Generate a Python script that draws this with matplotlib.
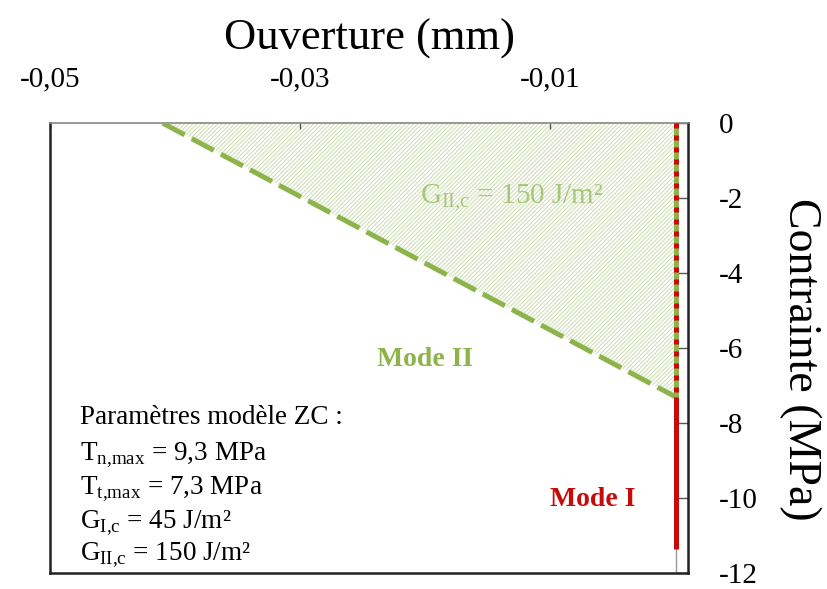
import matplotlib
matplotlib.use("Agg")
import matplotlib.pyplot as plt
from matplotlib.ticker import FuncFormatter

# --- données ---
x_mode2 = [-0.041, 0.0]      # enveloppe mode II (mm)
y_mode2 = [0.0, -7.3]        # contrainte (MPa)
y_mode2_vert = [0.0, -7.3]   # segment vertical mode II sur x = 0
y_mode1_vert = [0.0, -11.35] # segment vertical mode I sur x = 0
x_ticks = [-0.05, -0.03, -0.01]
y_ticks = [0, -2, -4, -6, -8, -10, -12]
params = ["Paramètres modèle ZC :",
          r"T$_{\mathrm{n{,}max}}$ = 9,3 MPa",
          r"T$_{\mathrm{t{,}max}}$ = 7,3 MPa",
          r"G$_{\mathrm{I{,}c}}$ = 45 J/m²",
          r"G$_{\mathrm{II{,}c}}$ = 150 J/m²"]

vert = "#8cb44a"
rouge = "#c80a0a"

plt.rcParams["font.family"] = ["Liberation Serif", "DejaVu Serif"]
plt.rcParams["mathtext.fontset"] = "custom"
plt.rcParams["mathtext.rm"] = "Liberation Serif"
plt.rcParams["hatch.linewidth"] = 0.8

fig = plt.figure(figsize=(8.27, 5.89), dpi=100)
ax = fig.add_axes([0.0605, 0.027, 0.7715, 0.764])

# zone hachurée mode II
ax.fill([x_mode2[0], x_mode2[1], x_mode2[1]], [y_mode2[0], y_mode2[1], y_mode2[0]],
        facecolor="none", edgecolor="#cfe0b6", hatch="////////", linewidth=0)

# axe vertical x = 0
ax.axvline(0, color="#999999", lw=1, zorder=1)

ax.plot(x_mode2, y_mode2, color=vert, lw=3.6, ls=(0, (5, 1.6)), zorder=3)
ax.plot([0, 0], y_mode1_vert, color=rouge, lw=3.6, solid_capstyle="butt", zorder=3)
ax.plot([0, 0], y_mode2_vert, color=vert, lw=3.6, solid_capstyle="butt", zorder=4)
ax.plot([0, 0], y_mode2_vert, color=rouge, lw=3.6, ls=(0, (1.0, 1.4)), zorder=5)

ax.set_xlim(-0.05, 0.001)
ax.set_ylim(-12, 0)

ax.xaxis.tick_top()
ax.xaxis.set_label_position("top")
ax.yaxis.tick_right()
ax.yaxis.set_label_position("right")
ax.set_xticks(x_ticks)
ax.set_yticks(y_ticks)
ax.xaxis.set_major_formatter(FuncFormatter(lambda v, p: f"{v:.2f}".replace(".", ",")))
ax.yaxis.set_major_formatter(FuncFormatter(lambda v, p: f"{v:.0f}"))
ax.tick_params(axis="both", direction="in", width=1, colors="#555555",
               labelcolor="black", labelsize=21)
ax.tick_params(axis="x", pad=22, length=4)
ax.tick_params(axis="y", pad=22, length=9)

for s in ["left", "bottom", "right"]:
    ax.spines[s].set_linewidth(1.8)
    ax.spines[s].set_color("#222222")
ax.spines["top"].set_linewidth(1.2)
ax.spines["top"].set_color("#888888")

ax.set_xlabel("Ouverture (mm)", fontsize=32, labelpad=12)
ax.set_ylabel("Contrainte (MPa)", fontsize=33, rotation=-90, va="center")
ax.yaxis.set_label_coords(1.175, 0.474)

ax.text(-0.02, -6.3, "Mode II", color=vert, fontsize=20, fontweight="bold", ha="center", va="center")
ax.text(-0.0066, -10.05, "Mode I", color=rouge, fontsize=20, fontweight="bold", ha="center", va="center")
ax.text(-0.0131, -2.0, r"G$_{\mathrm{II{,}c}}$ = 150 J/m²", color="#a9c77a", fontsize=21,
        ha="center", va="center")

y_txt = [-7.85, -8.85, -9.75, -10.65, -11.5]
for t, yy in zip(params, y_txt):
    ax.text(-0.0476, yy, t, fontsize=19.5, ha="left", va="center")

fig.savefig("out.png", dpi=100)
